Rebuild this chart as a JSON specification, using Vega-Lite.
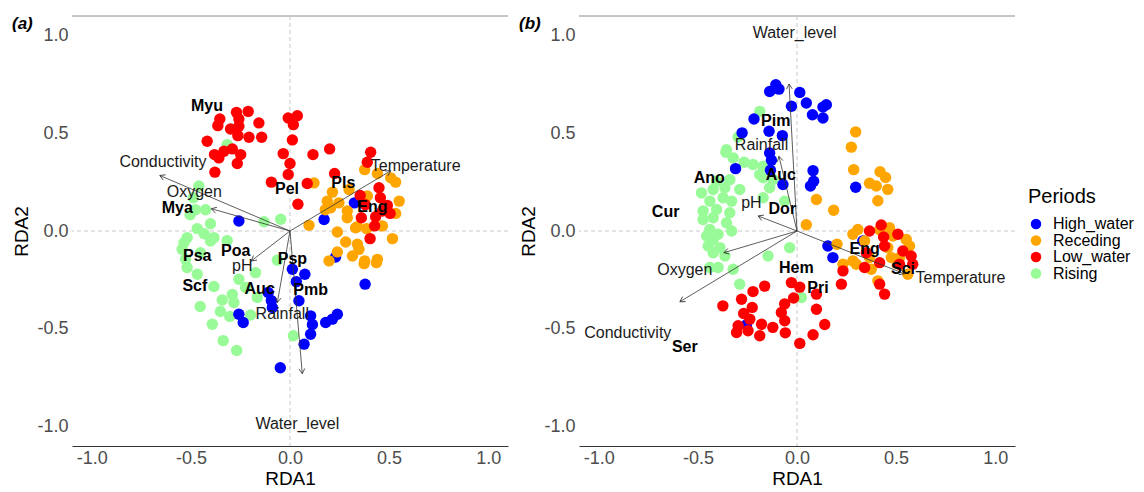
{
  "$schema": "https://vega.github.io/schema/vega-lite/v6.json",
  "background": "white",
  "padding": {"left": 12, "top": 15, "right": 5, "bottom": 0},
  "spacing": 10,
  "config": {
    "font": "Liberation Sans",
    "view": {"stroke": null},
    "axis": {
      "grid": false,
      "ticks": false,
      "tickSize": 0,
      "labelFontSize": 18,
      "labelColor": "#4D4D4D",
      "titleFontSize": 19,
      "titleFontWeight": "normal",
      "titleColor": "#000000",
      "labelFlush": false,
      "labelOverlap": false
    },
    "axisX": {"domain": true, "domainColor": "#333333", "domainWidth": 1, "labelPadding": 3, "titlePadding": 2},
    "axisY": {"domain": false, "labelPadding": 4, "titlePadding": 6, "minExtent": 35, "maxExtent": 35},
    "title": {
      "anchor": "start",
      "frame": "bounds",
      "fontSize": 17,
      "fontStyle": "italic",
      "fontWeight": "bold",
      "baseline": "top",
      "offset": -17.5,
      "color": "#000000"
    }
  },
  "datasets": {
    "frame": [{}],
    "sitesA": [
      {"period": "Rising", "RDA1": -0.317, "RDA2": 0.442},
      {"period": "Rising", "RDA1": -0.460, "RDA2": 0.230},
      {"period": "Rising", "RDA1": -0.488, "RDA2": 0.170},
      {"period": "Rising", "RDA1": -0.477, "RDA2": 0.109},
      {"period": "Rising", "RDA1": -0.426, "RDA2": 0.109},
      {"period": "Rising", "RDA1": -0.504, "RDA2": 0.083},
      {"period": "Rising", "RDA1": -0.401, "RDA2": 0.037},
      {"period": "Rising", "RDA1": -0.468, "RDA2": 0.012},
      {"period": "Rising", "RDA1": -0.519, "RDA2": -0.034},
      {"period": "Rising", "RDA1": -0.433, "RDA2": -0.014},
      {"period": "Rising", "RDA1": -0.535, "RDA2": -0.060},
      {"period": "Rising", "RDA1": -0.131, "RDA2": 0.047},
      {"period": "Rising", "RDA1": -0.047, "RDA2": 0.060},
      {"period": "Rising", "RDA1": -0.384, "RDA2": -0.034},
      {"period": "Rising", "RDA1": -0.544, "RDA2": -0.094},
      {"period": "Rising", "RDA1": -0.519, "RDA2": -0.187},
      {"period": "Rising", "RDA1": -0.468, "RDA2": -0.221},
      {"period": "Rising", "RDA1": -0.384, "RDA2": -0.284},
      {"period": "Rising", "RDA1": -0.258, "RDA2": -0.247},
      {"period": "Rising", "RDA1": -0.174, "RDA2": -0.213},
      {"period": "Rising", "RDA1": -0.224, "RDA2": -0.289},
      {"period": "Rising", "RDA1": -0.291, "RDA2": -0.325},
      {"period": "Rising", "RDA1": -0.342, "RDA2": -0.353},
      {"period": "Rising", "RDA1": -0.283, "RDA2": -0.366},
      {"period": "Rising", "RDA1": -0.453, "RDA2": -0.386},
      {"period": "Rising", "RDA1": -0.351, "RDA2": -0.412},
      {"period": "Rising", "RDA1": -0.304, "RDA2": -0.437},
      {"period": "Rising", "RDA1": -0.199, "RDA2": -0.430},
      {"period": "Rising", "RDA1": -0.392, "RDA2": -0.477},
      {"period": "Rising", "RDA1": -0.337, "RDA2": -0.561},
      {"period": "Rising", "RDA1": -0.269, "RDA2": -0.611},
      {"period": "Rising", "RDA1": 0.017, "RDA2": -0.536},
      {"period": "Rising", "RDA1": -0.064, "RDA2": -0.149},
      {"period": "Rising", "RDA1": -0.165, "RDA2": -0.340},
      {"period": "Rising", "RDA1": -0.527, "RDA2": -0.145},
      {"period": "Rising", "RDA1": -0.452, "RDA2": -0.111},
      {"period": "Rising", "RDA1": -0.401, "RDA2": -0.051},
      {"period": "Rising", "RDA1": -0.317, "RDA2": -0.049},
      {"period": "High_water", "RDA1": -0.258, "RDA2": 0.051},
      {"period": "High_water", "RDA1": 0.172, "RDA2": 0.059},
      {"period": "High_water", "RDA1": 0.325, "RDA2": 0.144},
      {"period": "High_water", "RDA1": 0.230, "RDA2": -0.133},
      {"period": "High_water", "RDA1": 0.379, "RDA2": -0.272},
      {"period": "High_water", "RDA1": 0.012, "RDA2": -0.196},
      {"period": "High_water", "RDA1": 0.075, "RDA2": -0.221},
      {"period": "High_water", "RDA1": 0.032, "RDA2": -0.259},
      {"period": "High_water", "RDA1": 0.045, "RDA2": -0.357},
      {"period": "High_water", "RDA1": -0.110, "RDA2": -0.315},
      {"period": "High_water", "RDA1": -0.094, "RDA2": -0.356},
      {"period": "High_water", "RDA1": -0.089, "RDA2": -0.391},
      {"period": "High_water", "RDA1": -0.258, "RDA2": -0.426},
      {"period": "High_water", "RDA1": -0.236, "RDA2": -0.468},
      {"period": "High_water", "RDA1": 0.104, "RDA2": -0.434},
      {"period": "High_water", "RDA1": 0.113, "RDA2": -0.478},
      {"period": "High_water", "RDA1": 0.180, "RDA2": -0.468},
      {"period": "High_water", "RDA1": 0.239, "RDA2": -0.426},
      {"period": "High_water", "RDA1": 0.214, "RDA2": -0.451},
      {"period": "High_water", "RDA1": 0.104, "RDA2": -0.528},
      {"period": "High_water", "RDA1": 0.071, "RDA2": -0.579},
      {"period": "High_water", "RDA1": -0.049, "RDA2": -0.700},
      {"period": "Receding", "RDA1": 0.377, "RDA2": 0.314},
      {"period": "Receding", "RDA1": 0.441, "RDA2": 0.294},
      {"period": "Receding", "RDA1": 0.508, "RDA2": 0.272},
      {"period": "Receding", "RDA1": 0.533, "RDA2": 0.250},
      {"period": "Receding", "RDA1": 0.121, "RDA2": 0.246},
      {"period": "Receding", "RDA1": 0.214, "RDA2": 0.199},
      {"period": "Receding", "RDA1": 0.298, "RDA2": 0.212},
      {"period": "Receding", "RDA1": 0.390, "RDA2": 0.179},
      {"period": "Receding", "RDA1": 0.188, "RDA2": 0.153},
      {"period": "Receding", "RDA1": 0.247, "RDA2": 0.144},
      {"period": "Receding", "RDA1": 0.289, "RDA2": 0.102},
      {"period": "Receding", "RDA1": 0.551, "RDA2": 0.153},
      {"period": "Receding", "RDA1": 0.533, "RDA2": 0.090},
      {"period": "Receding", "RDA1": 0.289, "RDA2": 0.068},
      {"period": "Receding", "RDA1": 0.096, "RDA2": 0.029},
      {"period": "Receding", "RDA1": 0.340, "RDA2": 0.022},
      {"period": "Receding", "RDA1": 0.387, "RDA2": 0.012},
      {"period": "Receding", "RDA1": 0.466, "RDA2": 0.026},
      {"period": "Receding", "RDA1": 0.239, "RDA2": -0.005},
      {"period": "Receding", "RDA1": 0.281, "RDA2": -0.056},
      {"period": "Receding", "RDA1": 0.340, "RDA2": -0.068},
      {"period": "Receding", "RDA1": 0.517, "RDA2": -0.039},
      {"period": "Receding", "RDA1": 0.348, "RDA2": -0.094},
      {"period": "Receding", "RDA1": 0.239, "RDA2": -0.107},
      {"period": "Receding", "RDA1": 0.315, "RDA2": -0.128},
      {"period": "Receding", "RDA1": 0.441, "RDA2": -0.145},
      {"period": "Receding", "RDA1": 0.377, "RDA2": -0.153},
      {"period": "Receding", "RDA1": 0.197, "RDA2": -0.153},
      {"period": "Receding", "RDA1": 0.374, "RDA2": -0.167},
      {"period": "Receding", "RDA1": 0.436, "RDA2": -0.162},
      {"period": "Receding", "RDA1": 0.205, "RDA2": 0.119},
      {"period": "Receding", "RDA1": 0.331, "RDA2": 0.017},
      {"period": "Receding", "RDA1": 0.178, "RDA2": 0.109},
      {"period": "Low_water", "RDA1": -0.270, "RDA2": 0.607},
      {"period": "Low_water", "RDA1": -0.211, "RDA2": 0.612},
      {"period": "Low_water", "RDA1": -0.354, "RDA2": 0.573},
      {"period": "Low_water", "RDA1": -0.258, "RDA2": 0.573},
      {"period": "Low_water", "RDA1": -0.157, "RDA2": 0.553},
      {"period": "Low_water", "RDA1": -0.364, "RDA2": 0.539},
      {"period": "Low_water", "RDA1": -0.300, "RDA2": 0.522},
      {"period": "Low_water", "RDA1": -0.258, "RDA2": 0.536},
      {"period": "Low_water", "RDA1": -0.263, "RDA2": 0.488},
      {"period": "Low_water", "RDA1": -0.207, "RDA2": 0.480},
      {"period": "Low_water", "RDA1": -0.143, "RDA2": 0.480},
      {"period": "Low_water", "RDA1": -0.418, "RDA2": 0.459},
      {"period": "Low_water", "RDA1": -0.291, "RDA2": 0.420},
      {"period": "Low_water", "RDA1": -0.333, "RDA2": 0.408},
      {"period": "Low_water", "RDA1": -0.249, "RDA2": 0.391},
      {"period": "Low_water", "RDA1": -0.381, "RDA2": 0.391},
      {"period": "Low_water", "RDA1": -0.359, "RDA2": 0.374},
      {"period": "Low_water", "RDA1": -0.266, "RDA2": 0.345},
      {"period": "Low_water", "RDA1": -0.379, "RDA2": 0.301},
      {"period": "Low_water", "RDA1": -0.009, "RDA2": 0.578},
      {"period": "Low_water", "RDA1": 0.037, "RDA2": 0.590},
      {"period": "Low_water", "RDA1": 0.017, "RDA2": 0.544},
      {"period": "Low_water", "RDA1": 0.012, "RDA2": 0.466},
      {"period": "Low_water", "RDA1": -0.034, "RDA2": 0.396},
      {"period": "Low_water", "RDA1": 0.000, "RDA2": 0.345},
      {"period": "Low_water", "RDA1": -0.009, "RDA2": 0.289},
      {"period": "Low_water", "RDA1": -0.094, "RDA2": 0.250},
      {"period": "Low_water", "RDA1": 0.116, "RDA2": 0.391},
      {"period": "Low_water", "RDA1": 0.200, "RDA2": 0.420},
      {"period": "Low_water", "RDA1": 0.087, "RDA2": 0.243},
      {"period": "Low_water", "RDA1": 0.225, "RDA2": 0.294},
      {"period": "Low_water", "RDA1": 0.040, "RDA2": 0.137},
      {"period": "Low_water", "RDA1": 0.407, "RDA2": 0.403},
      {"period": "Low_water", "RDA1": 0.390, "RDA2": 0.352},
      {"period": "Low_water", "RDA1": 0.449, "RDA2": 0.221},
      {"period": "Low_water", "RDA1": 0.354, "RDA2": 0.182},
      {"period": "Low_water", "RDA1": 0.491, "RDA2": 0.131},
      {"period": "Low_water", "RDA1": 0.466, "RDA2": 0.102},
      {"period": "Low_water", "RDA1": 0.432, "RDA2": 0.073},
      {"period": "Low_water", "RDA1": 0.360, "RDA2": 0.068},
      {"period": "Low_water", "RDA1": 0.505, "RDA2": 0.090},
      {"period": "Low_water", "RDA1": 0.427, "RDA2": 0.026},
      {"period": "Low_water", "RDA1": 0.404, "RDA2": -0.039},
      {"period": "Low_water", "RDA1": 0.456, "RDA2": 0.170},
      {"period": "Low_water", "RDA1": 0.380, "RDA2": 0.134}
    ],
    "sitesB": [
      {"period": "Rising", "RDA1": -0.188, "RDA2": 0.612},
      {"period": "Rising", "RDA1": -0.297, "RDA2": 0.481},
      {"period": "Rising", "RDA1": -0.359, "RDA2": 0.403},
      {"period": "Rising", "RDA1": -0.267, "RDA2": 0.352},
      {"period": "Rising", "RDA1": -0.171, "RDA2": 0.332},
      {"period": "Rising", "RDA1": -0.171, "RDA2": 0.272},
      {"period": "Rising", "RDA1": -0.121, "RDA2": 0.263},
      {"period": "Rising", "RDA1": -0.482, "RDA2": 0.195},
      {"period": "Rising", "RDA1": -0.062, "RDA2": 0.153},
      {"period": "Rising", "RDA1": -0.037, "RDA2": -0.085},
      {"period": "Rising", "RDA1": -0.423, "RDA2": 0.212},
      {"period": "Rising", "RDA1": -0.364, "RDA2": 0.221},
      {"period": "Rising", "RDA1": -0.289, "RDA2": 0.212},
      {"period": "Rising", "RDA1": -0.440, "RDA2": 0.153},
      {"period": "Rising", "RDA1": -0.373, "RDA2": 0.170},
      {"period": "Rising", "RDA1": -0.330, "RDA2": 0.153},
      {"period": "Rising", "RDA1": -0.474, "RDA2": 0.102},
      {"period": "Rising", "RDA1": -0.406, "RDA2": 0.110},
      {"period": "Rising", "RDA1": -0.339, "RDA2": 0.093},
      {"period": "Rising", "RDA1": -0.474, "RDA2": 0.059},
      {"period": "Rising", "RDA1": -0.423, "RDA2": 0.068},
      {"period": "Rising", "RDA1": -0.356, "RDA2": 0.042},
      {"period": "Rising", "RDA1": -0.440, "RDA2": 0.008},
      {"period": "Rising", "RDA1": -0.330, "RDA2": 0.000},
      {"period": "Rising", "RDA1": -0.423, "RDA2": -0.043},
      {"period": "Rising", "RDA1": -0.398, "RDA2": -0.017},
      {"period": "Rising", "RDA1": -0.448, "RDA2": -0.077},
      {"period": "Rising", "RDA1": -0.389, "RDA2": -0.085},
      {"period": "Rising", "RDA1": -0.423, "RDA2": -0.111},
      {"period": "Rising", "RDA1": -0.364, "RDA2": -0.128},
      {"period": "Rising", "RDA1": -0.398, "RDA2": -0.187},
      {"period": "Rising", "RDA1": -0.322, "RDA2": -0.196},
      {"period": "Rising", "RDA1": -0.146, "RDA2": -0.128},
      {"period": "Rising", "RDA1": -0.289, "RDA2": -0.272},
      {"period": "Rising", "RDA1": -0.171, "RDA2": 0.170},
      {"period": "Rising", "RDA1": -0.138, "RDA2": 0.221},
      {"period": "Rising", "RDA1": -0.188, "RDA2": 0.289},
      {"period": "Rising", "RDA1": -0.322, "RDA2": 0.374},
      {"period": "Rising", "RDA1": -0.222, "RDA2": 0.340},
      {"period": "Rising", "RDA1": -0.356, "RDA2": 0.416},
      {"period": "Rising", "RDA1": -0.339, "RDA2": 0.263},
      {"period": "Rising", "RDA1": -0.406, "RDA2": 0.255},
      {"period": "Rising", "RDA1": 0.022, "RDA2": -0.340},
      {"period": "Rising", "RDA1": -0.440, "RDA2": -0.187},
      {"period": "Rising", "RDA1": -0.456, "RDA2": -0.026},
      {"period": "High_water", "RDA1": -0.107, "RDA2": 0.748},
      {"period": "High_water", "RDA1": -0.138, "RDA2": 0.714},
      {"period": "High_water", "RDA1": -0.091, "RDA2": 0.726},
      {"period": "High_water", "RDA1": 0.014, "RDA2": 0.709},
      {"period": "High_water", "RDA1": -0.028, "RDA2": 0.638},
      {"period": "High_water", "RDA1": 0.047, "RDA2": 0.655},
      {"period": "High_water", "RDA1": 0.148, "RDA2": 0.646},
      {"period": "High_water", "RDA1": 0.131, "RDA2": 0.634},
      {"period": "High_water", "RDA1": 0.078, "RDA2": 0.595},
      {"period": "High_water", "RDA1": 0.131, "RDA2": 0.578},
      {"period": "High_water", "RDA1": -0.217, "RDA2": 0.573},
      {"period": "High_water", "RDA1": -0.277, "RDA2": 0.502},
      {"period": "High_water", "RDA1": -0.141, "RDA2": 0.510},
      {"period": "High_water", "RDA1": -0.074, "RDA2": 0.488},
      {"period": "High_water", "RDA1": -0.138, "RDA2": 0.399},
      {"period": "High_water", "RDA1": -0.129, "RDA2": 0.362},
      {"period": "High_water", "RDA1": -0.310, "RDA2": 0.319},
      {"period": "High_water", "RDA1": -0.134, "RDA2": 0.311},
      {"period": "High_water", "RDA1": 0.081, "RDA2": 0.309},
      {"period": "High_water", "RDA1": 0.084, "RDA2": 0.255},
      {"period": "High_water", "RDA1": 0.068, "RDA2": 0.230},
      {"period": "High_water", "RDA1": -0.071, "RDA2": 0.238},
      {"period": "High_water", "RDA1": 0.296, "RDA2": 0.224},
      {"period": "High_water", "RDA1": 0.156, "RDA2": -0.077},
      {"period": "High_water", "RDA1": 0.181, "RDA2": -0.136},
      {"period": "High_water", "RDA1": 0.332, "RDA2": -0.051},
      {"period": "High_water", "RDA1": -0.255, "RDA2": -0.480},
      {"period": "Receding", "RDA1": 0.296, "RDA2": 0.507},
      {"period": "Receding", "RDA1": 0.274, "RDA2": 0.429},
      {"period": "Receding", "RDA1": 0.286, "RDA2": 0.314},
      {"period": "Receding", "RDA1": 0.419, "RDA2": 0.303},
      {"period": "Receding", "RDA1": 0.447, "RDA2": 0.274},
      {"period": "Receding", "RDA1": 0.366, "RDA2": 0.244},
      {"period": "Receding", "RDA1": 0.400, "RDA2": 0.230},
      {"period": "Receding", "RDA1": 0.458, "RDA2": 0.213},
      {"period": "Receding", "RDA1": 0.408, "RDA2": 0.155},
      {"period": "Receding", "RDA1": 0.098, "RDA2": 0.161},
      {"period": "Receding", "RDA1": 0.185, "RDA2": 0.106},
      {"period": "Receding", "RDA1": 0.047, "RDA2": 0.032},
      {"period": "Receding", "RDA1": 0.307, "RDA2": 0.008},
      {"period": "Receding", "RDA1": 0.341, "RDA2": -0.051},
      {"period": "Receding", "RDA1": 0.467, "RDA2": 0.017},
      {"period": "Receding", "RDA1": 0.484, "RDA2": -0.026},
      {"period": "Receding", "RDA1": 0.551, "RDA2": -0.043},
      {"period": "Receding", "RDA1": 0.568, "RDA2": -0.077},
      {"period": "Receding", "RDA1": 0.458, "RDA2": -0.085},
      {"period": "Receding", "RDA1": 0.517, "RDA2": -0.136},
      {"period": "Receding", "RDA1": 0.476, "RDA2": -0.136},
      {"period": "Receding", "RDA1": 0.366, "RDA2": -0.136},
      {"period": "Receding", "RDA1": 0.282, "RDA2": -0.153},
      {"period": "Receding", "RDA1": 0.232, "RDA2": -0.170},
      {"period": "Receding", "RDA1": 0.202, "RDA2": -0.068},
      {"period": "Receding", "RDA1": 0.559, "RDA2": -0.221},
      {"period": "Receding", "RDA1": 0.408, "RDA2": -0.255},
      {"period": "Receding", "RDA1": 0.299, "RDA2": -0.170},
      {"period": "Receding", "RDA1": 0.375, "RDA2": -0.196},
      {"period": "Receding", "RDA1": 0.282, "RDA2": -0.017},
      {"period": "Receding", "RDA1": 0.417, "RDA2": 0.007},
      {"period": "Low_water", "RDA1": 0.366, "RDA2": 0.000},
      {"period": "Low_water", "RDA1": 0.425, "RDA2": 0.031},
      {"period": "Low_water", "RDA1": 0.437, "RDA2": -0.031},
      {"period": "Low_water", "RDA1": 0.509, "RDA2": -0.017},
      {"period": "Low_water", "RDA1": 0.442, "RDA2": -0.077},
      {"period": "Low_water", "RDA1": 0.534, "RDA2": -0.102},
      {"period": "Low_water", "RDA1": 0.576, "RDA2": -0.128},
      {"period": "Low_water", "RDA1": 0.350, "RDA2": -0.111},
      {"period": "Low_water", "RDA1": 0.417, "RDA2": -0.162},
      {"period": "Low_water", "RDA1": 0.517, "RDA2": -0.170},
      {"period": "Low_water", "RDA1": 0.584, "RDA2": -0.170},
      {"period": "Low_water", "RDA1": 0.341, "RDA2": -0.187},
      {"period": "Low_water", "RDA1": 0.232, "RDA2": -0.204},
      {"period": "Low_water", "RDA1": 0.417, "RDA2": -0.272},
      {"period": "Low_water", "RDA1": 0.442, "RDA2": -0.323},
      {"period": "Low_water", "RDA1": 0.224, "RDA2": -0.272},
      {"period": "Low_water", "RDA1": -0.028, "RDA2": -0.264},
      {"period": "Low_water", "RDA1": 0.014, "RDA2": -0.287},
      {"period": "Low_water", "RDA1": -0.163, "RDA2": -0.282},
      {"period": "Low_water", "RDA1": -0.222, "RDA2": -0.310},
      {"period": "Low_water", "RDA1": -0.280, "RDA2": -0.349},
      {"period": "Low_water", "RDA1": -0.374, "RDA2": -0.383},
      {"period": "Low_water", "RDA1": -0.226, "RDA2": -0.391},
      {"period": "Low_water", "RDA1": -0.269, "RDA2": -0.422},
      {"period": "Low_water", "RDA1": -0.062, "RDA2": -0.373},
      {"period": "Low_water", "RDA1": -0.079, "RDA2": -0.417},
      {"period": "Low_water", "RDA1": -0.017, "RDA2": -0.343},
      {"period": "Low_water", "RDA1": 0.098, "RDA2": -0.400},
      {"period": "Low_water", "RDA1": 0.098, "RDA2": -0.323},
      {"period": "Low_water", "RDA1": -0.238, "RDA2": -0.451},
      {"period": "Low_water", "RDA1": -0.179, "RDA2": -0.477},
      {"period": "Low_water", "RDA1": -0.297, "RDA2": -0.485},
      {"period": "Low_water", "RDA1": -0.247, "RDA2": -0.510},
      {"period": "Low_water", "RDA1": -0.305, "RDA2": -0.519},
      {"period": "Low_water", "RDA1": -0.122, "RDA2": -0.493},
      {"period": "Low_water", "RDA1": -0.059, "RDA2": -0.521},
      {"period": "Low_water", "RDA1": -0.188, "RDA2": -0.536},
      {"period": "Low_water", "RDA1": 0.140, "RDA2": -0.478},
      {"period": "Low_water", "RDA1": 0.081, "RDA2": -0.531},
      {"period": "Low_water", "RDA1": 0.014, "RDA2": -0.575},
      {"period": "Low_water", "RDA1": -0.062, "RDA2": -0.459}
    ],
    "envA": [
      {"variable": "Conductivity", "RDA1": -0.657, "RDA2": 0.284, "labelRDA1": -0.641, "labelRDA2": 0.352},
      {"variable": "Oxygen", "RDA1": -0.397, "RDA2": 0.114, "labelRDA1": -0.483, "labelRDA2": 0.200},
      {"variable": "Temperature", "RDA1": 0.508, "RDA2": 0.308, "labelRDA1": 0.634, "labelRDA2": 0.332},
      {"variable": "pH", "RDA1": -0.195, "RDA2": -0.153, "labelRDA1": -0.241, "labelRDA2": -0.179},
      {"variable": "Rainfall", "RDA1": -0.064, "RDA2": -0.366, "labelRDA1": -0.039, "labelRDA2": -0.426},
      {"variable": "Water_level", "RDA1": 0.062, "RDA2": -0.730, "labelRDA1": 0.037, "labelRDA2": -0.987}
    ],
    "envB": [
      {"variable": "Water_level", "RDA1": -0.040, "RDA2": 0.752, "labelRDA1": -0.012, "labelRDA2": 1.015},
      {"variable": "Rainfall", "RDA1": -0.091, "RDA2": 0.382, "labelRDA1": -0.179, "labelRDA2": 0.441},
      {"variable": "pH", "RDA1": -0.196, "RDA2": 0.077, "labelRDA1": -0.230, "labelRDA2": 0.145},
      {"variable": "Oxygen", "RDA1": -0.369, "RDA2": -0.111, "labelRDA1": -0.566, "labelRDA2": -0.199},
      {"variable": "Conductivity", "RDA1": -0.591, "RDA2": -0.362, "labelRDA1": -0.854, "labelRDA2": -0.522},
      {"variable": "Temperature", "RDA1": 0.542, "RDA2": -0.219, "labelRDA1": 0.825, "labelRDA2": -0.238}
    ],
    "speciesA": [
      {"code": "Myu", "RDA1": -0.419, "RDA2": 0.639},
      {"code": "Pel", "RDA1": -0.015, "RDA2": 0.216},
      {"code": "Pls", "RDA1": 0.269, "RDA2": 0.246},
      {"code": "Eng", "RDA1": 0.416, "RDA2": 0.124},
      {"code": "Mya", "RDA1": -0.569, "RDA2": 0.120},
      {"code": "Poa", "RDA1": -0.274, "RDA2": -0.101},
      {"code": "Psa", "RDA1": -0.468, "RDA2": -0.126},
      {"code": "Psp", "RDA1": 0.012, "RDA2": -0.145},
      {"code": "Scf", "RDA1": -0.480, "RDA2": -0.283},
      {"code": "Auc", "RDA1": -0.153, "RDA2": -0.298},
      {"code": "Pmb", "RDA1": 0.104, "RDA2": -0.303}
    ],
    "speciesB": [
      {"code": "Pim", "RDA1": -0.107, "RDA2": 0.564},
      {"code": "Ano", "RDA1": -0.443, "RDA2": 0.272},
      {"code": "Auc", "RDA1": -0.082, "RDA2": 0.284},
      {"code": "Cur", "RDA1": -0.663, "RDA2": 0.097},
      {"code": "Dor", "RDA1": -0.074, "RDA2": 0.115},
      {"code": "Eng", "RDA1": 0.341, "RDA2": -0.094},
      {"code": "Hem", "RDA1": -0.003, "RDA2": -0.187},
      {"code": "Pri", "RDA1": 0.106, "RDA2": -0.293},
      {"code": "Sci", "RDA1": 0.535, "RDA2": -0.192},
      {"code": "Ser", "RDA1": -0.566, "RDA2": -0.595}
    ]
  },
  "hconcat": [
    {
      "width": 436,
      "height": 430,
      "title": {"text": "(a)"},
      "layer": [
        {
          "data": {"name": "frame"},
          "mark": {"type": "rule", "color": "#8C8C8C", "strokeWidth": 1},
          "encoding": {"y": {"datum": 1.1, "type": "quantitative", "title": "RDA2", "scale": {"domain": [-1.1, 1.1], "nice": false, "zero": false}, "axis": {"values": [-1, -0.5, 0, 0.5, 1], "format": ".1f", "labelExpr": "replace(datum.label, '\u2212', '-')"}}}
        },
        {
          "data": {"name": "frame"},
          "mark": {"type": "rule", "color": "#C8C8C8", "strokeWidth": 1, "strokeDash": [4, 3]},
          "encoding": {"x": {"datum": 0, "type": "quantitative", "title": "RDA1", "scale": {"domain": [-1.1, 1.1], "nice": false, "zero": false}, "axis": {"values": [-1, -0.5, 0, 0.5, 1], "format": ".1f", "labelExpr": "replace(datum.label, '\u2212', '-')"}}}
        },
        {
          "data": {"name": "frame"},
          "mark": {"type": "rule", "color": "#C8C8C8", "strokeWidth": 1, "strokeDash": [4, 3]},
          "encoding": {"y": {"datum": 0, "type": "quantitative", "title": "RDA2", "scale": {"domain": [-1.1, 1.1], "nice": false, "zero": false}, "axis": {"values": [-1, -0.5, 0, 0.5, 1], "format": ".1f", "labelExpr": "replace(datum.label, '\u2212', '-')"}}}
        },
        {
          "data": {"name": "sitesA"},
          "mark": {"type": "circle", "size": 130, "opacity": 1},
          "encoding": {
            "x": {"field": "RDA1", "type": "quantitative", "title": "RDA1", "scale": {"domain": [-1.1, 1.1], "nice": false, "zero": false}, "axis": {"values": [-1, -0.5, 0, 0.5, 1], "format": ".1f", "labelExpr": "replace(datum.label, '\u2212', '-')"}},
            "y": {"field": "RDA2", "type": "quantitative", "title": "RDA2", "scale": {"domain": [-1.1, 1.1], "nice": false, "zero": false}, "axis": {"values": [-1, -0.5, 0, 0.5, 1], "format": ".1f", "labelExpr": "replace(datum.label, '\u2212', '-')"}},
            "color": {"field": "period", "type": "nominal",
              "scale": {"domain": ["High_water", "Receding", "Low_water", "Rising"], "range": ["#0000FF", "#FFA500", "#FF0000", "#98FB98"]},
              "legend": {"title": "Periods", "orient": "none", "legendX": 956, "legendY": 171, "titleFontSize": 20, "titleFontWeight": "normal", "titleColor": "#000000", "titlePadding": 9, "labelFontSize": 16, "labelColor": "#000000", "labelOffset": 9, "symbolType": "circle", "symbolSize": 110, "symbolStrokeWidth": 0, "rowPadding": 0.5}}
          }
        },
        {
          "data": {"name": "envA"},
          "mark": {"type": "rule", "color": "#333333", "strokeWidth": 0.8},
          "encoding": {
            "x": {"field": "RDA1", "type": "quantitative", "title": "RDA1", "scale": {"domain": [-1.1, 1.1], "nice": false, "zero": false}, "axis": {"values": [-1, -0.5, 0, 0.5, 1], "format": ".1f", "labelExpr": "replace(datum.label, '\u2212', '-')"}},
            "y": {"field": "RDA2", "type": "quantitative", "title": "RDA2", "scale": {"domain": [-1.1, 1.1], "nice": false, "zero": false}, "axis": {"values": [-1, -0.5, 0, 0.5, 1], "format": ".1f", "labelExpr": "replace(datum.label, '\u2212', '-')"}},
            "x2": {"datum": 0},
            "y2": {"datum": 0}
          }
        },
        {
          "data": {"name": "envA"},
          "transform": [{"calculate": "atan2(datum.RDA1, datum.RDA2) * 180 / PI", "as": "heading"}],
          "mark": {"type": "point", "shape": "M-0.58,1L0,0L0.58,1", "size": 100, "filled": false, "color": "#333333", "strokeWidth": 0.8, "opacity": 1},
          "encoding": {
            "x": {"field": "RDA1", "type": "quantitative", "title": "RDA1", "scale": {"domain": [-1.1, 1.1], "nice": false, "zero": false}, "axis": {"values": [-1, -0.5, 0, 0.5, 1], "format": ".1f", "labelExpr": "replace(datum.label, '\u2212', '-')"}},
            "y": {"field": "RDA2", "type": "quantitative", "title": "RDA2", "scale": {"domain": [-1.1, 1.1], "nice": false, "zero": false}, "axis": {"values": [-1, -0.5, 0, 0.5, 1], "format": ".1f", "labelExpr": "replace(datum.label, '\u2212', '-')"}},
            "angle": {"field": "heading", "type": "quantitative", "scale": null}
          }
        },
        {
          "data": {"name": "envA"},
          "mark": {"type": "text", "fontSize": 16, "color": "#1A1A1A"},
          "encoding": {
            "x": {"field": "labelRDA1", "type": "quantitative", "title": "RDA1", "scale": {"domain": [-1.1, 1.1], "nice": false, "zero": false}, "axis": {"values": [-1, -0.5, 0, 0.5, 1], "format": ".1f", "labelExpr": "replace(datum.label, '\u2212', '-')"}},
            "y": {"field": "labelRDA2", "type": "quantitative", "title": "RDA2", "scale": {"domain": [-1.1, 1.1], "nice": false, "zero": false}, "axis": {"values": [-1, -0.5, 0, 0.5, 1], "format": ".1f", "labelExpr": "replace(datum.label, '\u2212', '-')"}},
            "text": {"field": "variable", "type": "nominal"}
          }
        },
        {
          "data": {"name": "speciesA"},
          "mark": {"type": "text", "fontSize": 16, "fontWeight": "bold", "color": "#000000"},
          "encoding": {
            "x": {"field": "RDA1", "type": "quantitative", "title": "RDA1", "scale": {"domain": [-1.1, 1.1], "nice": false, "zero": false}, "axis": {"values": [-1, -0.5, 0, 0.5, 1], "format": ".1f", "labelExpr": "replace(datum.label, '\u2212', '-')"}},
            "y": {"field": "RDA2", "type": "quantitative", "title": "RDA2", "scale": {"domain": [-1.1, 1.1], "nice": false, "zero": false}, "axis": {"values": [-1, -0.5, 0, 0.5, 1], "format": ".1f", "labelExpr": "replace(datum.label, '\u2212', '-')"}},
            "text": {"field": "code", "type": "nominal"}
          }
        }
      ]
    },
    {
      "width": 436,
      "height": 430,
      "title": {"text": "(b)"},
      "layer": [
        {
          "data": {"name": "frame"},
          "mark": {"type": "rule", "color": "#8C8C8C", "strokeWidth": 1},
          "encoding": {"y": {"datum": 1.1, "type": "quantitative", "title": "RDA2", "scale": {"domain": [-1.1, 1.1], "nice": false, "zero": false}, "axis": {"values": [-1, -0.5, 0, 0.5, 1], "format": ".1f", "labelExpr": "replace(datum.label, '\u2212', '-')"}}}
        },
        {
          "data": {"name": "frame"},
          "mark": {"type": "rule", "color": "#C8C8C8", "strokeWidth": 1, "strokeDash": [4, 3]},
          "encoding": {"x": {"datum": 0, "type": "quantitative", "title": "RDA1", "scale": {"domain": [-1.1, 1.1], "nice": false, "zero": false}, "axis": {"values": [-1, -0.5, 0, 0.5, 1], "format": ".1f", "labelExpr": "replace(datum.label, '\u2212', '-')"}}}
        },
        {
          "data": {"name": "frame"},
          "mark": {"type": "rule", "color": "#C8C8C8", "strokeWidth": 1, "strokeDash": [4, 3]},
          "encoding": {"y": {"datum": 0, "type": "quantitative", "title": "RDA2", "scale": {"domain": [-1.1, 1.1], "nice": false, "zero": false}, "axis": {"values": [-1, -0.5, 0, 0.5, 1], "format": ".1f", "labelExpr": "replace(datum.label, '\u2212', '-')"}}}
        },
        {
          "data": {"name": "sitesB"},
          "mark": {"type": "circle", "size": 130, "opacity": 1},
          "encoding": {
            "x": {"field": "RDA1", "type": "quantitative", "title": "RDA1", "scale": {"domain": [-1.1, 1.1], "nice": false, "zero": false}, "axis": {"values": [-1, -0.5, 0, 0.5, 1], "format": ".1f", "labelExpr": "replace(datum.label, '\u2212', '-')"}},
            "y": {"field": "RDA2", "type": "quantitative", "title": "RDA2", "scale": {"domain": [-1.1, 1.1], "nice": false, "zero": false}, "axis": {"values": [-1, -0.5, 0, 0.5, 1], "format": ".1f", "labelExpr": "replace(datum.label, '\u2212', '-')"}},
            "color": {"field": "period", "type": "nominal",
              "scale": {"domain": ["High_water", "Receding", "Low_water", "Rising"], "range": ["#0000FF", "#FFA500", "#FF0000", "#98FB98"]},
              "legend": {"title": "Periods", "orient": "none", "legendX": 956, "legendY": 171, "titleFontSize": 20, "titleFontWeight": "normal", "titleColor": "#000000", "titlePadding": 9, "labelFontSize": 16, "labelColor": "#000000", "labelOffset": 9, "symbolType": "circle", "symbolSize": 110, "symbolStrokeWidth": 0, "rowPadding": 0.5}}
          }
        },
        {
          "data": {"name": "envB"},
          "mark": {"type": "rule", "color": "#333333", "strokeWidth": 0.8},
          "encoding": {
            "x": {"field": "RDA1", "type": "quantitative", "title": "RDA1", "scale": {"domain": [-1.1, 1.1], "nice": false, "zero": false}, "axis": {"values": [-1, -0.5, 0, 0.5, 1], "format": ".1f", "labelExpr": "replace(datum.label, '\u2212', '-')"}},
            "y": {"field": "RDA2", "type": "quantitative", "title": "RDA2", "scale": {"domain": [-1.1, 1.1], "nice": false, "zero": false}, "axis": {"values": [-1, -0.5, 0, 0.5, 1], "format": ".1f", "labelExpr": "replace(datum.label, '\u2212', '-')"}},
            "x2": {"datum": 0},
            "y2": {"datum": 0}
          }
        },
        {
          "data": {"name": "envB"},
          "transform": [{"calculate": "atan2(datum.RDA1, datum.RDA2) * 180 / PI", "as": "heading"}],
          "mark": {"type": "point", "shape": "M-0.58,1L0,0L0.58,1", "size": 100, "filled": false, "color": "#333333", "strokeWidth": 0.8, "opacity": 1},
          "encoding": {
            "x": {"field": "RDA1", "type": "quantitative", "title": "RDA1", "scale": {"domain": [-1.1, 1.1], "nice": false, "zero": false}, "axis": {"values": [-1, -0.5, 0, 0.5, 1], "format": ".1f", "labelExpr": "replace(datum.label, '\u2212', '-')"}},
            "y": {"field": "RDA2", "type": "quantitative", "title": "RDA2", "scale": {"domain": [-1.1, 1.1], "nice": false, "zero": false}, "axis": {"values": [-1, -0.5, 0, 0.5, 1], "format": ".1f", "labelExpr": "replace(datum.label, '\u2212', '-')"}},
            "angle": {"field": "heading", "type": "quantitative", "scale": null}
          }
        },
        {
          "data": {"name": "envB"},
          "mark": {"type": "text", "fontSize": 16, "color": "#1A1A1A"},
          "encoding": {
            "x": {"field": "labelRDA1", "type": "quantitative", "title": "RDA1", "scale": {"domain": [-1.1, 1.1], "nice": false, "zero": false}, "axis": {"values": [-1, -0.5, 0, 0.5, 1], "format": ".1f", "labelExpr": "replace(datum.label, '\u2212', '-')"}},
            "y": {"field": "labelRDA2", "type": "quantitative", "title": "RDA2", "scale": {"domain": [-1.1, 1.1], "nice": false, "zero": false}, "axis": {"values": [-1, -0.5, 0, 0.5, 1], "format": ".1f", "labelExpr": "replace(datum.label, '\u2212', '-')"}},
            "text": {"field": "variable", "type": "nominal"}
          }
        },
        {
          "data": {"name": "speciesB"},
          "mark": {"type": "text", "fontSize": 16, "fontWeight": "bold", "color": "#000000"},
          "encoding": {
            "x": {"field": "RDA1", "type": "quantitative", "title": "RDA1", "scale": {"domain": [-1.1, 1.1], "nice": false, "zero": false}, "axis": {"values": [-1, -0.5, 0, 0.5, 1], "format": ".1f", "labelExpr": "replace(datum.label, '\u2212', '-')"}},
            "y": {"field": "RDA2", "type": "quantitative", "title": "RDA2", "scale": {"domain": [-1.1, 1.1], "nice": false, "zero": false}, "axis": {"values": [-1, -0.5, 0, 0.5, 1], "format": ".1f", "labelExpr": "replace(datum.label, '\u2212', '-')"}},
            "text": {"field": "code", "type": "nominal"}
          }
        }
      ]
    }
  ]
}
